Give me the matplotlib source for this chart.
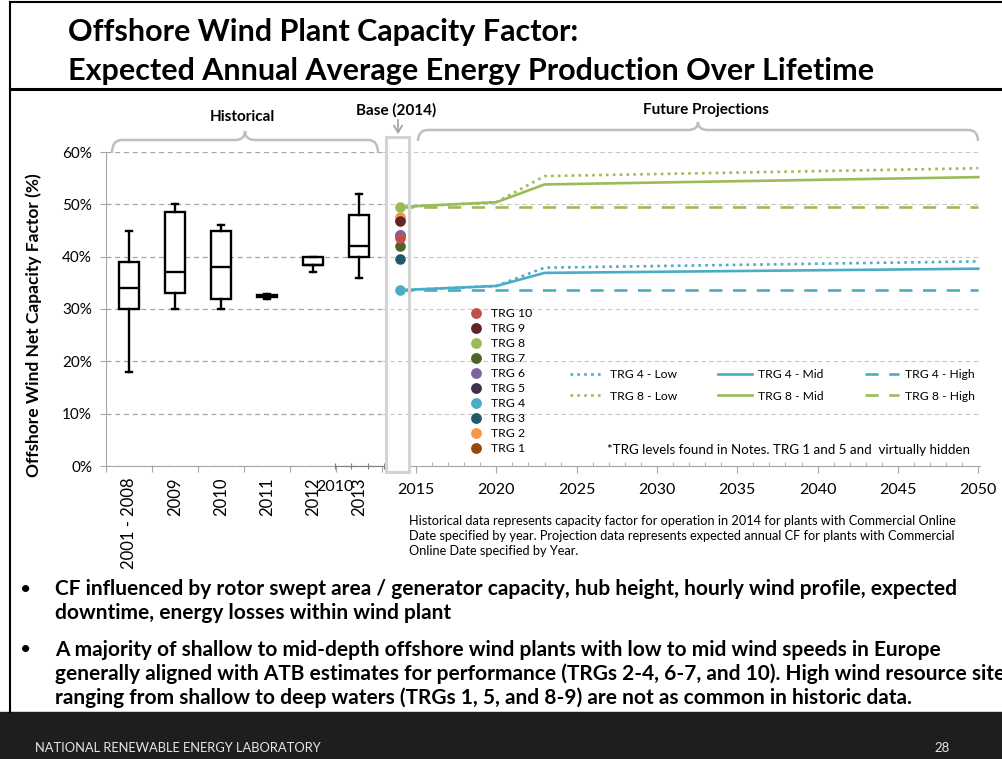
import numpy as np
import matplotlib
matplotlib.use("Agg")
import matplotlib.pyplot as plt
from matplotlib.lines import Line2D
from matplotlib.patches import Rectangle, PathPatch
from matplotlib.path import Path

plt.rcParams['font.family'] = ['Lato', 'DejaVu Sans']

# ---------------- data ----------------
hist_categories = ["2001 - 2008", "2009", "2010", "2011", "2012", "2013"]
hist_whislo = [18.0, 30.0, 30.0, 32.0, 37.0, 36.0]
hist_q1 = [30.0, 33.0, 32.0, 32.2, 38.4, 40.0]
hist_med = [34.0, 37.0, 38.0, 32.4, 38.4, 42.0]
hist_q3 = [39.0, 48.5, 45.0, 32.6, 40.0, 48.0]
hist_whishi = [45.0, 50.0, 46.0, 32.8, 40.0, 52.0]

base_year = 2014
trg_labels = ["TRG 1", "TRG 2", "TRG 3", "TRG 4", "TRG 5",
              "TRG 6", "TRG 7", "TRG 8", "TRG 9", "TRG 10"]
trg_base_cf = [47.0, 47.6, 39.6, 33.6, 44.2, 44.2, 42.0, 49.5, 46.9, 43.5]
trg_colors = ["#984807", "#F79646", "#215968", "#4BACC6", "#3F3151",
              "#8064A2", "#4F6228", "#9BBB59", "#632523", "#C0504D"]

proj_years = [2014, 2020, 2023, 2050]
trg4_low = [33.6, 34.4, 37.9, 39.1]
trg4_mid = [33.6, 34.4, 36.9, 37.7]
trg4_high = [33.7, 33.7, 33.7, 33.7]
trg8_low = [49.5, 50.4, 55.4, 56.9]
trg8_mid = [49.5, 50.4, 53.8, 55.2]
trg8_high = [49.5, 49.5, 49.5, 49.5]

y_ticks = [0, 10, 20, 30, 40, 50, 60]
year_ticks = [2015, 2020, 2025, 2030, 2035, 2040, 2045, 2050]

# ---------------- layout helpers ----------------
W, H = 1003, 759
def FX(px): return px / W
def FY(py): return 1 - py / H

BLUE = "#4BACC6"
GREEN = "#9BBB59"
GRID = "#A6A6A6"
LIGHT = "#BFBFBF"

fig = plt.figure(figsize=(W / 100, H / 100), dpi=100)

# slide frame
fig.add_artist(Line2D([FX(10), FX(1003)], [FY(2), FY(2)], color="black", lw=1.5))
fig.add_artist(Line2D([FX(10), FX(10)], [FY(2), FY(712)], color="black", lw=1.5))
fig.add_artist(Line2D([FX(10), FX(1003)], [FY(89), FY(89)], color="black", lw=2.2))
fig.add_artist(Rectangle((0, 0), 1, FY(712), color="#1E1E1E", transform=fig.transFigure))

fig.text(FX(68), FY(32), "Offshore Wind Plant Capacity Factor:", fontsize=22,
         fontweight="bold", va="center", ha="left")
fig.text(FX(68), FY(71), "Expected Annual Average Energy Production Over Lifetime",
         fontsize=22, fontweight="bold", va="center", ha="left")

# ---------------- left axes: historical box plots ----------------
axL = fig.add_axes([FX(106), FY(466), FX(382) - FX(106), FY(152) - FY(466)])
stats = []
for i, lab in enumerate(hist_categories):
    stats.append(dict(label=lab, whislo=hist_whislo[i], q1=hist_q1[i], med=hist_med[i],
                      q3=hist_q3[i], whishi=hist_whishi[i], fliers=[]))
axL.bxp(stats, positions=range(len(stats)), widths=0.43, capwidths=0.14,
        showfliers=False, patch_artist=True,
        boxprops=dict(facecolor="white", edgecolor="black", lw=1.7),
        medianprops=dict(color="black", lw=1.7),
        whiskerprops=dict(color="black", lw=1.7),
        capprops=dict(color="black", lw=1.7), zorder=3)
axL.set_xlim(-0.5, 5.5)
axL.set_ylim(0, 60)
axL.set_yticks(y_ticks)
axL.set_yticklabels([f"{v}%" for v in y_ticks], fontsize=11)
axL.yaxis.grid(True, linestyle=(0, (4, 3)), color=GRID, lw=0.9)
axL.set_axisbelow(True)
axL.set_xticks(np.arange(-0.5, 6, 1))
axL.set_xticklabels([])
axL.set_xticks(range(len(hist_categories)), minor=True)
axL.set_xticklabels(hist_categories, minor=True, rotation=90, fontsize=12, va="top")
axL.tick_params(axis="x", which="major", length=4, color=GRID, direction="out")
axL.tick_params(axis="x", which="minor", length=0, pad=8)
axL.tick_params(axis="y", length=4, color=GRID, pad=6)
for s in ["top", "right"]:
    axL.spines[s].set_visible(False)
for s in ["left", "bottom"]:
    axL.spines[s].set_color(GRID)
axL.set_facecolor("none")

fig.text(FX(34), FY(325), "Offshore Wind Net Capacity Factor (%)", rotation=90,
         fontsize=12.5, fontweight="bold", ha="center", va="center")

# small stray axis seen in the source
axA = fig.add_axes([FX(335), FY(466), FX(384) - FX(335), 0.0005])
axA.set_xlim(0, 3)
axA.set_xticks([0, 1, 2, 3])
axA.set_xticklabels(["2010", "", "", ""], fontsize=11.5)
axA.set_yticks([])
for s in ["top", "right", "left"]:
    axA.spines[s].set_visible(False)
axA.spines["bottom"].set_color("#7F7F7F")
axA.tick_params(axis="x", length=4, direction="inout", color="#7F7F7F", pad=8)
axA.set_facecolor("none")

# ---------------- right axes: base + projections ----------------
axR = fig.add_axes([FX(382), FY(466), FX(980) - FX(382), FY(152) - FY(466)])
axR.set_xlim(2012.88, 2050.11)
axR.set_ylim(0, 60)
axR.set_yticks(y_ticks)
axR.tick_params(axis="y", length=0, labelleft=False)
axR.yaxis.grid(True, linestyle=(0, (4, 3)), color="#C8C8C8", lw=0.8)
axR.set_axisbelow(True)
axR.set_xticks(year_ticks)
axR.set_xticklabels([str(y) for y in year_ticks], fontsize=11.5)
axR.set_xticks(range(2015, 2051), minor=True)
axR.tick_params(axis="x", which="major", length=5, color=GRID, direction="out", pad=7)
axR.tick_params(axis="x", which="minor", length=3, color=GRID, direction="in")
for s in ["top", "right", "left"]:
    axR.spines[s].set_visible(False)
axR.spines["bottom"].set_color(GRID)
axR.spines["bottom"].set_bounds(2014.6, 2050.11)
axR.set_facecolor("none")

dot_ls = (0, (1, 1.6))
dash_ls = (0, (5, 4))
lw = 1.9
axR.plot(proj_years, trg4_high, color=BLUE, lw=lw, ls=dash_ls, zorder=3)
axR.plot(proj_years, trg8_high, color=GREEN, lw=lw, ls=dash_ls, zorder=3)
axR.plot(proj_years, trg4_low, color=BLUE, lw=lw, ls=dot_ls, zorder=3)
axR.plot(proj_years, trg8_low, color=GREEN, lw=lw, ls=dot_ls, zorder=3)
axR.plot(proj_years, trg4_mid, color=BLUE, lw=lw, zorder=4)
axR.plot(proj_years, trg8_mid, color=GREEN, lw=lw, zorder=4)

for cf, c in zip(trg_base_cf, trg_colors):
    axR.scatter([base_year], [cf], s=58, color=c, zorder=5, linewidths=0)

# base box and arrow
fig.add_artist(Rectangle((FX(386), FY(472)), FX(409) - FX(386), FY(137) - FY(472),
                         fill=False, ec="#D3D3D3", lw=2.2, transform=fig.transFigure))
fig.add_artist(matplotlib.patches.FancyArrowPatch(
    (FX(398), FY(117)), (FX(398), FY(137)), transform=fig.transFigure,
    arrowstyle="->,head_length=5,head_width=3", color="#A6A6A6", lw=1.3))

# braces
def brace(x0, x1, xp, ybase, ytop, ypeak, r=10):
    pts = [(x0, ybase), (x0, ytop), (x0 + r, ytop),
           (xp - r, ytop), (xp, ytop), (xp, ypeak),
           (xp, ytop), (xp + r, ytop),
           (x1 - r, ytop), (x1, ytop), (x1, ybase)]
    codes = [Path.MOVETO, Path.CURVE3, Path.CURVE3,
             Path.LINETO, Path.CURVE3, Path.CURVE3,
             Path.CURVE3, Path.CURVE3,
             Path.LINETO, Path.CURVE3, Path.CURVE3]
    verts = [(FX(x), FY(y)) for x, y in pts]
    fig.add_artist(PathPatch(Path(verts, codes), fill=False, ec=LIGHT, lw=1.8,
                             transform=fig.transFigure))

brace(112, 378, 245, 153, 140, 131)
brace(418, 978, 698, 141, 130, 122)

fig.text(FX(242), FY(117), "Historical", fontsize=11, fontweight="bold", ha="center", va="center")
fig.text(FX(396), FY(110), "Base (2014)", fontsize=11, fontweight="bold", ha="center", va="center")
fig.text(FX(706), FY(110), "Future Projections", fontsize=11, fontweight="bold", ha="center", va="center")

# TRG legend (top: TRG 10)
trg_handles = [Line2D([], [], marker="o", ls="", color=c, markersize=7.8, markeredgewidth=0)
               for c in trg_colors][::-1]
fig.legend(trg_handles, trg_labels[::-1], loc="upper left",
           bbox_to_anchor=(FX(470), FY(308)), frameon=False, fontsize=8.8,
           handlelength=1.0, handletextpad=0.7, labelspacing=0.33,
           borderpad=0, borderaxespad=0)

# line legend
lh = [Line2D([], [], color=BLUE, lw=lw, ls=dot_ls), Line2D([], [], color=GREEN, lw=lw, ls=dot_ls),
      Line2D([], [], color=BLUE, lw=lw), Line2D([], [], color=GREEN, lw=lw),
      Line2D([], [], color=BLUE, lw=lw, ls=dash_ls), Line2D([], [], color=GREEN, lw=lw, ls=dash_ls)]
ll = ["TRG 4 - Low", "TRG 8 - Low", "TRG 4 - Mid", "TRG 8 - Mid", "TRG 4 - High", "TRG 8 - High"]
fig.legend(lh, ll, ncol=3, loc="upper left", bbox_to_anchor=(FX(570), FY(369)),
           frameon=False, fontsize=8.7, handlelength=2.8, handletextpad=0.5,
           columnspacing=3.4, labelspacing=0.88, borderpad=0, borderaxespad=0)

fig.text(FX(607), FY(450), "*TRG levels found in Notes. TRG 1 and 5 and  virtually hidden",
         fontsize=9.6, ha="left", va="center")

note = ["Historical data represents capacity factor for operation in 2014 for plants with Commercial Online",
        "Date specified by year. Projection data represents expected annual CF for plants with Commercial",
        "Online Date specified by Year."]
for i, t in enumerate(note):
    fig.text(FX(409), FY(521 + 15 * i), t, fontsize=9.2, ha="left", va="center")

# bullets
bul = [(589, "CF influenced by rotor swept area / generator capacity, hub height, hourly wind profile, expected", True),
       (613, "downtime, energy losses within wind plant", False),
       (650, "A majority of shallow to mid-depth offshore wind plants with low to mid wind speeds in Europe", True),
       (674, "generally aligned with ATB estimates for performance (TRGs 2-4, 6-7, and 10). High wind resource sites", False),
       (698, "ranging from shallow to deep waters (TRGs 1, 5, and 8-9) are not as common in historic data.", False)]
for y, t, b in bul:
    if b:
        fig.text(FX(20), FY(y), "\u2022", fontsize=14, ha="left", va="center")
    fig.text(FX(55), FY(y), t, fontsize=15, fontweight="bold", ha="left", va="center")

fig.text(FX(35), FY(748), "NATIONAL RENEWABLE ENERGY LABORATORY", fontsize=9.3,
         color="#E6E6E6", ha="left", va="center")
fig.text(FX(942), FY(748), "28", fontsize=9.5, color="#E6E6E6", ha="center", va="center")

fig.savefig("out.png", dpi=100)
